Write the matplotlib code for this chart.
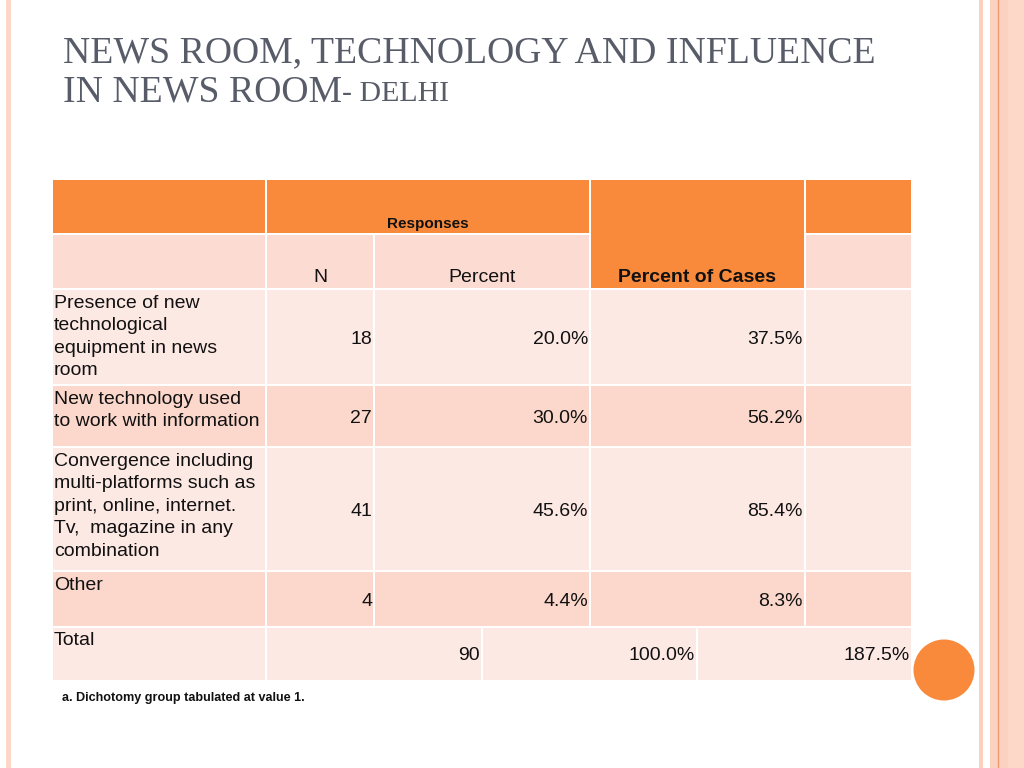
import matplotlib.pyplot as plt
from matplotlib.patches import Rectangle, Circle

# table data
labels = ["Presence of new\ntechnological\nequipment in news\nroom",
          "New technology used\nto work with information",
          "Convergence including\nmulti-platforms such as\nprint, online, internet.\nTv,  magazine in any\ncombination",
          "Other"]
n_vals = [18, 27, 41, 4]
pct_vals = ["20.0%", "30.0%", "45.6%", "4.4%"]
case_vals = ["37.5%", "56.2%", "85.4%", "8.3%"]
total_vals = ["90", "100.0%", "187.5%"]

ORANGE = "#f98a3c"
PINK_HEAD = "#fcdbd2"
PINK_LIGHT = "#fde9e4"
PINK_DARK = "#fcd8cc"
TXT = "#111111"
FS = 14

fig = plt.figure(figsize=(10.24, 7.68), dpi=100)
ax = fig.add_axes([0, 0, 1, 1])
ax.set_xlim(0, 1024)
ax.set_ylim(768, 0)
ax.axis("off")


def cell(x0, x1, y0, y1, color):
    ax.add_patch(Rectangle((x0 + 1, y0 + 1), x1 - x0 - 2, y1 - y0 - 2,
                           facecolor=color, edgecolor="none"))


# slide decoration
ax.add_patch(Rectangle((6, 0), 5, 768, facecolor="#fcd6c7", edgecolor="none"))
ax.add_patch(Rectangle((979, 0), 4, 768, facecolor="#fbd0bd", edgecolor="none"))
ax.add_patch(Rectangle((990, 0), 34, 768, facecolor="#fbd2c0", edgecolor="none"))
ax.add_patch(Rectangle((1008, 0), 16, 768, facecolor="#fdd8c8", edgecolor="none"))
ax.plot([998, 998], [0, 768], color="#f39a72", lw=1)

# title
ax.text(63, 62, "NEWS ROOM, TECHNOLOGY AND INFLUENCE", family="Liberation Serif",
        fontsize=27.2, color="#575c68", va="baseline")
t = ax.text(63, 101, "IN NEWS ROOM", family="Liberation Serif",
            fontsize=27.2, color="#575c68", va="baseline")
fig.canvas.draw()
x_end = ax.transData.inverted().transform(t.get_window_extent())[1][0]
ax.text(x_end, 101, "- DELHI", family="Liberation Serif", fontsize=21.5,
        color="#575c68", va="baseline")

# column edges
cols = [52, 266, 374, 590, 805, 912]
tot_cols = [52, 266, 482, 697, 912]
rows = [179, 234, 289, 385, 447, 571, 627, 681]

# header row 1
cell(cols[0], cols[1], rows[0], rows[1], ORANGE)
cell(cols[1], cols[3], rows[0], rows[1], ORANGE)
cell(cols[3], cols[4], rows[0], rows[2], ORANGE)
cell(cols[4], cols[5], rows[0], rows[1], ORANGE)
# header row 2
cell(cols[0], cols[1], rows[1], rows[2], PINK_HEAD)
cell(cols[1], cols[2], rows[1], rows[2], PINK_HEAD)
cell(cols[2], cols[3], rows[1], rows[2], PINK_HEAD)
cell(cols[4], cols[5], rows[1], rows[2], PINK_HEAD)

ax.text(428, 228, "Responses", ha="center", va="baseline", fontsize=11,
        fontweight="bold", family="Liberation Sans", color=TXT)
ax.text(320, 282, "N", ha="center", va="baseline", fontsize=FS,
        family="Liberation Sans", color=TXT)
ax.text(482, 282, "Percent", ha="center", va="baseline", fontsize=FS,
        family="Liberation Sans", color=TXT)
ax.text(697, 282, "Percent of Cases", ha="center", va="baseline", fontsize=FS,
        fontweight="bold", family="Liberation Sans", color=TXT)

# data rows
for i, lab in enumerate(labels):
    y0, y1 = rows[i + 2], rows[i + 3]
    col = PINK_LIGHT if i % 2 == 0 else PINK_DARK
    for j in range(5):
        cell(cols[j], cols[j + 1], y0, y1, col)
    yb = (y0 + y1) / 2 + 7
    ax.text(54, y0 + 6, lab, ha="left", va="top", fontsize=FS,
            family="Liberation Sans", color=TXT, linespacing=1.42)
    ax.text(cols[2] - 2, yb, str(n_vals[i]), ha="right", va="baseline",
            fontsize=FS, family="Liberation Sans", color=TXT)
    ax.text(cols[3] - 2, yb, pct_vals[i], ha="right", va="baseline",
            fontsize=FS, family="Liberation Sans", color=TXT)
    ax.text(cols[4] - 2, yb, case_vals[i], ha="right", va="baseline",
            fontsize=FS, family="Liberation Sans", color=TXT)

# total row
y0, y1 = rows[6], rows[7]
for j in range(4):
    cell(tot_cols[j], tot_cols[j + 1], y0, y1, PINK_LIGHT)
ax.text(54, y0 + 5, "Total", ha="left", va="top", fontsize=FS,
        family="Liberation Sans", color=TXT)
for j, v in enumerate(total_vals):
    ax.text(tot_cols[j + 2] - 2, 660, v, ha="right", va="baseline",
            fontsize=FS, family="Liberation Sans", color=TXT)

ax.text(62, 698, "a. Dichotomy group tabulated at value 1.", ha="left",
        va="center", fontsize=9.1, fontweight="bold", family="Liberation Sans",
        color=TXT)

ax.add_patch(Circle((944, 670), 30.5, facecolor=ORANGE, edgecolor="none"))

fig.savefig("out.png", dpi=100)
